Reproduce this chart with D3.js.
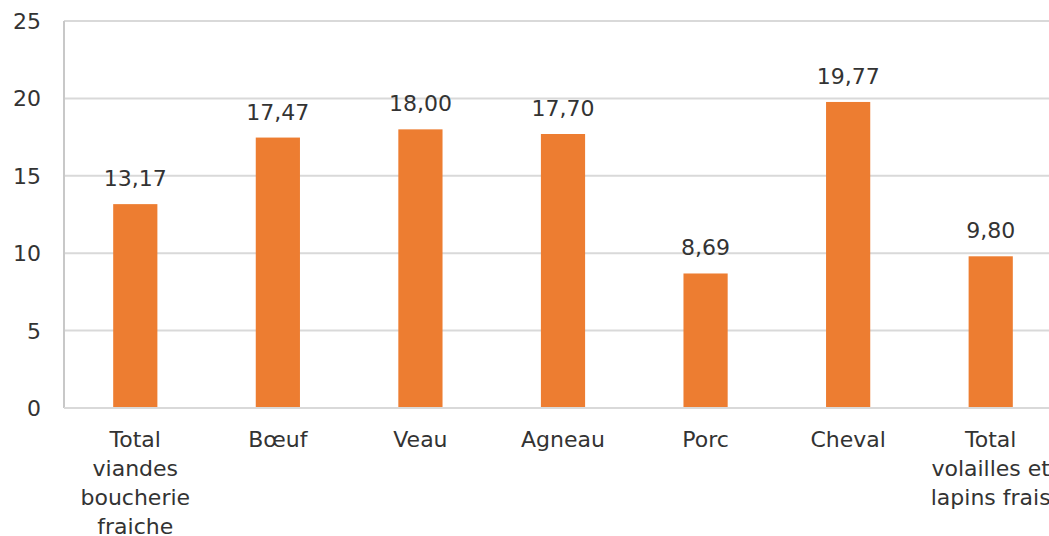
<!DOCTYPE html>
<html>
<head>
<meta charset="utf-8">
<script src="https://cdn.jsdelivr.net/npm/d3@7"></script>
<style>
  body { margin: 0; background: #fff; overflow: hidden; }
  text { font-family: "DejaVu Sans", "Noto Sans", sans-serif; fill: #333; }
</style>
</head>
<body>
<script>
// Width and height
var w = 1049;
var h = 536;

// data
var categories = [
  ["Total", "viandes", "boucherie", "fraiche"],
  ["Bœuf"],
  ["Veau"],
  ["Agneau"],
  ["Porc"],
  ["Cheval"],
  ["Total", "volailles et", "lapins frais"]
];
var values = [13.17, 17.47, 18.00, 17.70, 8.69, 19.77, 9.80];
var yTicks = [0, 5, 10, 15, 20, 25];

var svg = d3.select("body").append("svg")
  .attr("width", w)
  .attr("height", h);

var xScale = d3.scaleBand()
  .domain(d3.range(values.length))
  .range([64, 1062])
  .paddingInner(0.69)
  .paddingOuter(0.345);

var yScale = d3.scaleLinear()
  .domain([0, 25])
  .range([408, 21]);

// gridlines
svg.selectAll("line.grid")
  .data(yTicks)
  .enter()
  .append("line")
  .attr("class", "grid")
  .attr("x1", 64)
  .attr("x2", w)
  .attr("y1", function(d) { return yScale(d); })
  .attr("y2", function(d) { return yScale(d); })
  .attr("stroke", "#d9d9d9")
  .attr("stroke-width", 2);

// left axis line
svg.append("line")
  .attr("x1", 64).attr("x2", 64)
  .attr("y1", yScale(25)).attr("y2", yScale(0))
  .attr("stroke", "#c8c8c8")
  .attr("stroke-width", 2);

// y tick labels
svg.selectAll("text.ytick")
  .data(yTicks)
  .enter()
  .append("text")
  .attr("class", "ytick")
  .attr("x", 41)
  .attr("y", function(d) { return yScale(d) + 8; })
  .attr("text-anchor", "end")
  .style("font-size", "22px")
  .text(function(d) { return d; });

// bars
svg.selectAll("rect")
  .data(values)
  .enter()
  .append("rect")
  .attr("x", function(d, i) { return xScale(i); })
  .attr("y", function(d) { return yScale(d); })
  .attr("width", xScale.bandwidth())
  .attr("height", function(d) { return yScale(0) - yScale(d); })
  .attr("fill", "#ed7d31");

// bottom axis line over bars
svg.append("line")
  .attr("x1", 64).attr("x2", w)
  .attr("y1", yScale(0)).attr("y2", yScale(0))
  .attr("stroke", "#d9d9d9")
  .attr("stroke-width", 2);

// value labels
svg.selectAll("text.val")
  .data(values)
  .enter()
  .append("text")
  .attr("class", "val")
  .attr("x", function(d, i) { return xScale(i) + xScale.bandwidth() / 2; })
  .attr("y", function(d) { return yScale(d) - 18; })
  .attr("text-anchor", "middle")
  .style("font-size", "22px")
  .text(function(d) { return d.toFixed(2).replace(".", ","); });

// category labels
var cat = svg.selectAll("text.cat")
  .data(categories)
  .enter()
  .append("text")
  .attr("class", "cat")
  .attr("text-anchor", "middle")
  .style("font-size", "22px");

cat.selectAll("tspan")
  .data(function(d, i) { return d.map(function(s) { return { s: s, i: i }; }); })
  .enter()
  .append("tspan")
  .attr("x", function(d) { return xScale(d.i) + xScale.bandwidth() / 2; })
  .attr("y", function(d, j) { return 447 + j * 29; })
  .text(function(d) { return d.s; });
</script>
</body>
</html>
